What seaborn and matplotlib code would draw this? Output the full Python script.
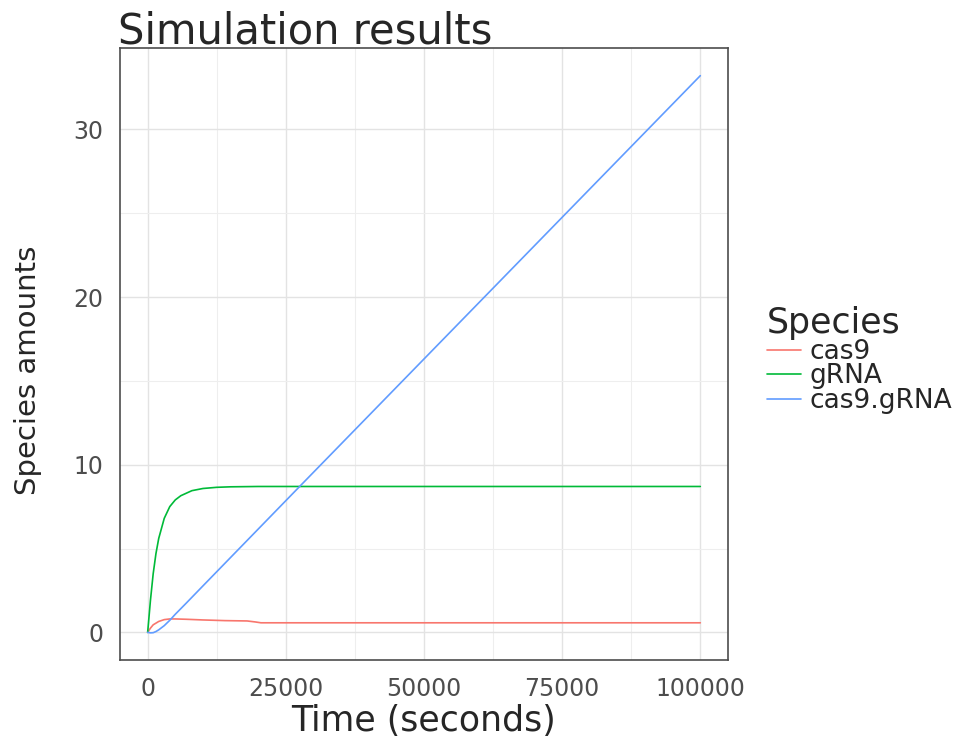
import pandas as pd
import matplotlib
matplotlib.use('Agg')
import matplotlib.pyplot as plt
import seaborn as sns

# valores
t_cas9 = [0, 500, 1000, 2000, 3000, 4000, 5000, 7000, 10000, 14000, 18000, 19500, 20500, 100000]
y_cas9 = [0, 0.25, 0.45, 0.65, 0.76, 0.8, 0.8, 0.78, 0.74, 0.7, 0.68, 0.62, 0.57, 0.57]

t_grna = [0, 500, 1000, 1500, 2000, 3000, 4000, 5000, 6000, 8000, 10000, 12500, 15000, 20000, 30000, 100000]
y_grna = [0, 1.9, 3.5, 4.7, 5.6, 6.8, 7.5, 7.9, 8.15, 8.45, 8.58, 8.65, 8.68, 8.7, 8.7, 8.7]

t_complejo = [0, 500, 1000, 1500, 2000, 3000, 4000, 5000, 7000, 10000, 27500, 100000]
y_complejo = [0, -0.03, -0.02, 0.05, 0.15, 0.4, 0.72, 1.08, 1.75, 2.77, 8.7, 33.2]

ESPECIES = ['cas9', 'gRNA', 'cas9.gRNA']
COLORES = ['#F8766D', '#00BA38', '#619CFF']


def armar_tabla() -> pd.DataFrame:
    partes = []
    for nombre, t, y in zip(ESPECIES, [t_cas9, t_grna, t_complejo], [y_cas9, y_grna, y_complejo]):
        partes.append(pd.DataFrame({'time': t, 'amount': y, 'Species': nombre}))
    return pd.concat(partes, ignore_index=True)


def main():
    df = armar_tabla()
    sns.set_style('white')
    plt.rcParams['font.family'] = ['DejaVu Sans']

    fig = plt.figure(figsize=(9.68, 7.36), dpi=100)
    ax = fig.add_axes([0.124, 0.103, 0.628, 0.832])

    sns.lineplot(data=df, x='time', y='amount', hue='Species', hue_order=ESPECIES,
                 palette=COLORES, linewidth=1.2, estimator=None, sort=False, ax=ax)

    ax.set_xlim(-5000, 105000)
    ax.set_ylim(-1.66, 34.86)
    ax.set_xticks([0, 25000, 50000, 75000, 100000])
    ax.set_yticks([0, 10, 20, 30])
    ax.set_xticks([12500, 37500, 62500, 87500], minor=True)
    ax.set_yticks([5, 15, 25], minor=True)
    ax.grid(which='major', color='#e3e3e3', linewidth=1.0)
    ax.grid(which='minor', color='#eeeeee', linewidth=0.8)
    ax.set_axisbelow(True)
    for s in ax.spines.values():
        s.set_color('#4d4d4d')
        s.set_linewidth(1.2)

    ax.tick_params(which='major', length=6, width=1.1, color='#4d4d4d',
                   labelcolor='#4d4d4d', labelsize=17, pad=6)
    ax.tick_params(which='minor', length=0)

    ax.set_xlabel('Time (seconds)', fontsize=25, labelpad=2)
    ax.set_ylabel('Species amounts', fontsize=21)
    ax.yaxis.set_label_coords(-0.128, 0.474)
    ax.set_title('Simulation results', fontsize=30, loc='left', pad=3, x=-0.003)

    leg = ax.legend(title='Species', loc='center left', bbox_to_anchor=(1.047, 0.49),
                    frameon=False, fontsize=19, title_fontsize=25, handlelength=1.3,
                    handletextpad=0.3, labelspacing=-0.05, borderaxespad=0)
    leg._legend_box.align = 'left'

    fig.savefig('out.png', dpi=100)
    plt.close(fig)


if __name__ == '__main__':
    main()
